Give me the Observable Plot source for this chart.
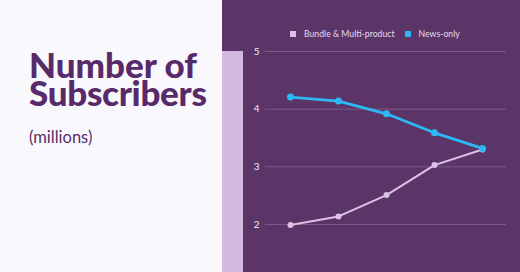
<!DOCTYPE html>
<html>
<head>
<meta charset="utf-8">
<script src="https://cdn.jsdelivr.net/npm/d3@7"></script>
<script src="https://cdn.jsdelivr.net/npm/@observablehq/plot@0.6"></script>
<style>
  html, body { margin:0; padding:0; }
  body { width:520px; height:272px; overflow:hidden; background:#f8f8fd; font-family:Lato, "Noto Sans", sans-serif; }
  #wrap { position:relative; width:520px; height:272px; }
  #left { position:absolute; left:0; top:0; width:222px; height:272px; background:#f8f8fd; }
  .title { position:absolute; left:29px; font-family:Lato, sans-serif; font-weight:900; font-size:35px; line-height:26px; height:26px; color:#582a6a; white-space:nowrap; }
  #t1 { top:51px; }
  #t2 { top:78.5px; letter-spacing:-0.3px; }
  #sub { position:absolute; left:29px; top:127px; font-family:Lato, sans-serif; font-weight:400; font-size:16.5px; line-height:20px; color:#5a2d6a; }
  #right { position:absolute; left:222px; top:0; width:298px; height:272px; background:#5c3568; }
  #bar { position:absolute; left:222px; top:51px; width:21px; height:221px; background:#d3b9df; }
  #chart { position:absolute; left:222px; top:0; }
  #legend { position:absolute; left:290px; top:17px; }
  #legend, #legend * { font-family:Lato, "Noto Sans", sans-serif !important; font-size:8.7px !important; color:#e6d8ee !important; }
  #legend .lg-swatch { margin-right:10px !important; }
  #legend .lg-swatch > svg { margin-right:8px !important; }
</style>
</head>
<body>
<div id="wrap">
  <div id="left"></div>
  <div class="title" id="t1">Number of</div>
  <div class="title" id="t2">Subscribers</div>
  <div id="sub">(millions)</div>
  <div id="right"></div>
  <div id="bar"></div>
  <div id="chart"></div>
  <div id="legend"></div>
</div>
<script>
const categories = ["2019", "2020", "2021", "2022", "2023"];
const seriesNames = ["Bundle & Multi-product", "News-only"];
const bundle = [1.99, 2.14, 2.51, 3.03, 3.30];
const newsOnly = [4.21, 4.14, 3.92, 3.59, 3.32];
const yTicks = [2, 3, 4, 5];
const colors = ["#dcc3e6", "#2cb8f2"];

const data = [
  ...categories.map((c, i) => ({cat: c, series: seriesNames[0], value: bundle[i]})),
  ...categories.map((c, i) => ({cat: c, series: seriesNames[1], value: newsOnly[i]}))
];
const bundleData = data.filter(d => d.series === seriesNames[0]);
const newsData = data.filter(d => d.series === seriesNames[1]);

const chart = Plot.plot({
  width: 298,
  height: 272,
  marginTop: 51,
  marginBottom: 48,
  marginLeft: 43,
  marginRight: 14,
  style: {background: "transparent", fontFamily: "Lato, 'Noto Sans', sans-serif", fontSize: "10px", color: "#f2eaf5", overflow: "visible"},
  x: {type: "point", domain: categories, padding: 0.5, axis: null},
  y: {domain: [2, 5], ticks: yTicks},
  color: {domain: seriesNames, range: colors},
  marks: [
    Plot.gridY(yTicks, {stroke: "#7d5889", strokeOpacity: 1, strokeWidth: 1}),
    Plot.axisY(yTicks, {tickSize: 0, tickPadding: 6, fill: "#f2eaf5", label: null, tickFormat: d3.format("d")}),
    Plot.line(bundleData, {x: "cat", y: "value", stroke: colors[0], strokeWidth: 2}),
    Plot.dot(bundleData, {x: "cat", y: "value", fill: colors[0], r: 3}),
    Plot.line(newsData, {x: "cat", y: "value", stroke: colors[1], strokeWidth: 2.8}),
    Plot.dot(newsData, {x: "cat", y: "value", fill: colors[1], r: 3.5})
  ]
});
document.getElementById("chart").appendChild(chart);

const legend = Plot.legend({
  color: {domain: seriesNames, range: colors},
  legend: "swatches",
  swatchSize: 6,
  className: "lg",
  style: {background: "transparent", marginLeft: "0px"}
});
document.getElementById("legend").appendChild(legend);
</script>
</body>
</html>
